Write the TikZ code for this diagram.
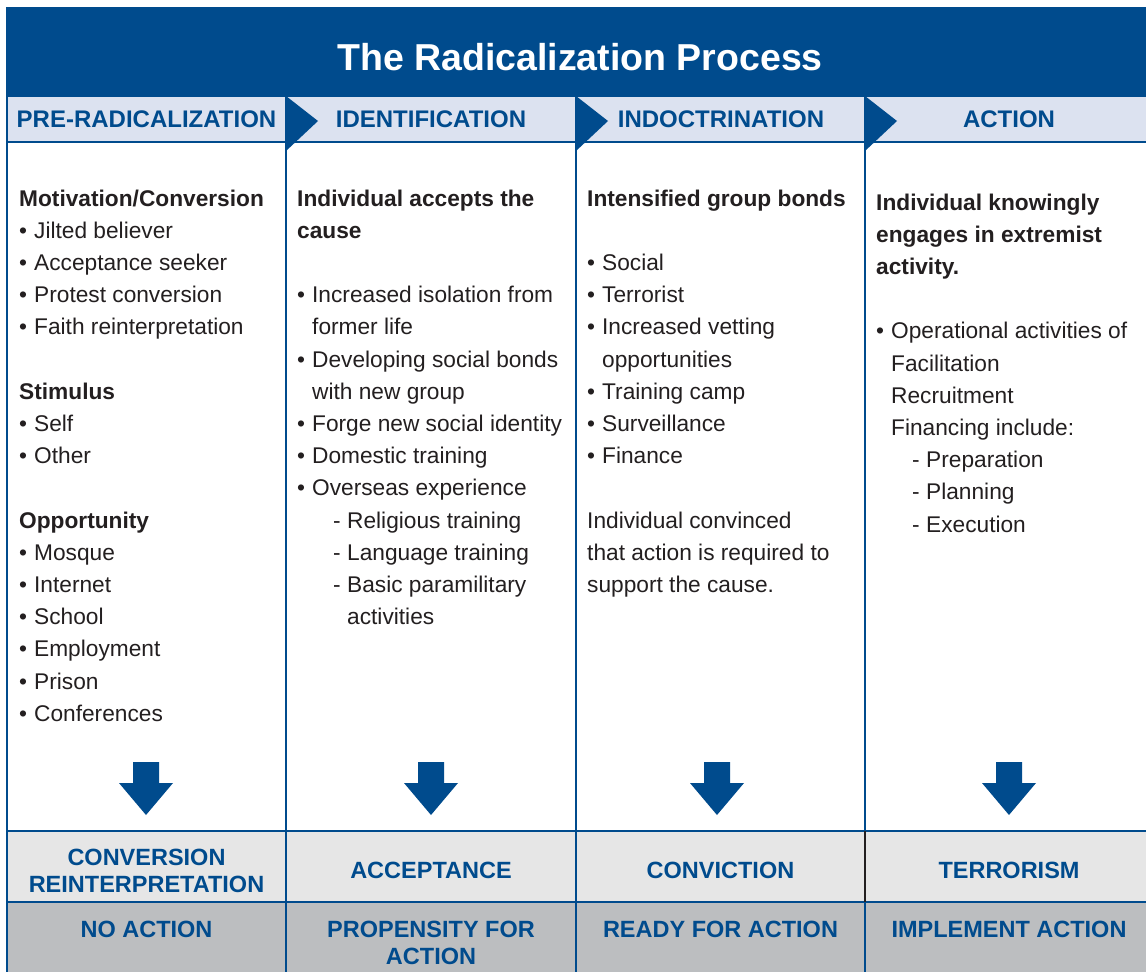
\documentclass[tikz,border=0pt]{standalone}
\usepackage{fontspec}
\setmainfont{Liberation Sans}
\definecolor{rblue}{HTML}{004B8D}
\definecolor{bandfill}{HTML}{DCE2F0}
\definecolor{rowa}{HTML}{E6E6E6}
\definecolor{rowb}{HTML}{BCBEC0}
\definecolor{ink}{HTML}{231F20}
\newcommand{\rbody}{\fontsize{22.7}{32.2}\selectfont}
\newcommand{\rbul}{\makebox[15pt][l]{\textbullet}}
\newcommand{\rind}{\hspace*{15pt}}
\newcommand{\rsub}{\hspace*{36pt}\makebox[14pt][l]{-}}
\newcommand{\rsubind}{\hspace*{50pt}}
\tikzset{
  frameline/.style={draw=rblue, line width=2.4pt},
  chev/.style={fill=rblue},
  downarrow/.style={fill=rblue},
  coltext/.style={anchor=base west, inner sep=0pt, text=ink},
  headtext/.style={anchor=base, inner sep=0pt, text=rblue, font=\fontsize{24}{28}\selectfont\bfseries},
  rowtext/.style={anchor=base, inner sep=0pt, text=rblue},
}
\newcommand{\colbox}[1]{\parbox[t]{275pt}{\raggedright\rbody #1}}
\newcommand{\rowbox}[1]{\parbox[t]{270pt}{\centering\fontsize{23.5}{27}\selectfont\bfseries #1}}
\begin{document}
\begin{tikzpicture}[x=1pt,y=-1pt]
\useasboundingbox (0,0) rectangle (1146,972);
% backgrounds
\fill[white] (0,0) rectangle (1146,972);
\fill[rblue] (7,7) rectangle (1153,96);
\fill[bandfill] (7,96) rectangle (1153,142);
\fill[rowa] (7,831) rectangle (1153,902);
\fill[rowb] (7,902) rectangle (1153,972);
% lines
\draw[draw=rblue, line width=1pt] (7,96) -- (1153,96);
\draw[frameline] (7,142) -- (1153,142);
\draw[frameline] (7,831) -- (1153,831);
\draw[frameline] (7,902) -- (1153,902);
\draw[frameline] (7,7) -- (7,972);
\draw[frameline] (286,96) -- (286,972);
\draw[frameline] (576,96) -- (576,972);
\draw[frameline] (865,96) -- (865,831);
\draw[draw=ink, line width=2.4pt] (865,831) -- (865,902);
\draw[frameline] (865,902) -- (865,972);
% chevrons
\fill[chev] (286,96) -- (318,121) -- (286,151) -- cycle;
\fill[chev] (576,96) -- (608,121) -- (576,151) -- cycle;
\fill[chev] (865,96) -- (897,121) -- (865,151) -- cycle;
% down arrows
\foreach \cx in {146,431,717,1009}{
  \fill[downarrow] (\cx-13,762) -- (\cx+13,762) -- (\cx+13,783) -- (\cx+27,783)
     -- (\cx,815) -- (\cx-27,783) -- (\cx-13,783) -- cycle;
}
% title
\node[anchor=base, inner sep=0pt, text=white, font=\fontsize{37.5}{40}\selectfont\bfseries] (title) at (580,70.5) {The Radicalization Process};
% stage headers
\node[headtext] (h1) at (146.5,127.6) {PRE-RADICALIZATION};
\node[headtext] (h2) at (431,127.6) {IDENTIFICATION};
\node[headtext] (h3) at (721,127.6) {INDOCTRINATION};
\node[headtext] (h4) at (1009,127.6) {ACTION};
% column bodies
\node[coltext] (c1) at (19,206) {\colbox{%
\textbf{Motivation/Conversion}\\
\rbul Jilted believer\\
\rbul Acceptance seeker\\
\rbul Protest conversion\\
\rbul Faith reinterpretation\\
\mbox{}\\
\textbf{Stimulus}\\
\rbul Self\\
\rbul Other\\
\mbox{}\\
\textbf{Opportunity}\\
\rbul Mosque\\
\rbul Internet\\
\rbul School\\
\rbul Employment\\
\rbul Prison\\
\rbul Conferences}};
\node[coltext] (c2) at (297,206) {\colbox{%
\textbf{Individual accepts the}\\
\textbf{cause}\\
\mbox{}\\
\rbul Increased isolation from\\
\rind former life\\
\rbul Developing social bonds\\
\rind with new group\\
\rbul Forge new social identity\\
\rbul Domestic training\\
\rbul Overseas experience\\
\rsub Religious training\\
\rsub Language training\\
\rsub Basic paramilitary\\
\rsubind activities}};
\node[coltext] (c3) at (587,206) {\colbox{%
\textbf{Intensified group bonds}\\
\mbox{}\\
\rbul Social\\
\rbul Terrorist\\
\rbul Increased vetting\\
\rind opportunities\\
\rbul Training camp\\
\rbul Surveillance\\
\rbul Finance\\
\mbox{}\\
Individual convinced\\
that action is required to\\
support the cause.}};
\node[coltext] (c4) at (876,210) {\colbox{%
\textbf{Individual knowingly}\\
\textbf{engages in extremist}\\
\textbf{activity.}\\
\mbox{}\\
\rbul Operational activities of\\
\rind Facilitation\\
\rind Recruitment\\
\rind Financing include:\\
\rsub Preparation\\
\rsub Planning\\
\rsub Execution}};
% outcome row
\node[rowtext] (r1a) at (146.5,865.4) {\rowbox{CONVERSION\\REINTERPRETATION}};
\node[rowtext] (r1b) at (431,878.5) {\rowbox{ACCEPTANCE}};
\node[rowtext] (r1c) at (720.5,878.5) {\rowbox{CONVICTION}};
\node[rowtext] (r1d) at (1009,878.5) {\rowbox{TERRORISM}};
% readiness row
\node[rowtext] (r2a) at (146.5,937.4) {\rowbox{NO ACTION}};
\node[rowtext] (r2b) at (431,937.4) {\rowbox{PROPENSITY FOR\\ACTION}};
\node[rowtext] (r2c) at (720.5,937.4) {\rowbox{READY FOR ACTION}};
\node[rowtext] (r2d) at (1009,937.4) {\rowbox{IMPLEMENT ACTION}};
\end{tikzpicture}
\end{document}
